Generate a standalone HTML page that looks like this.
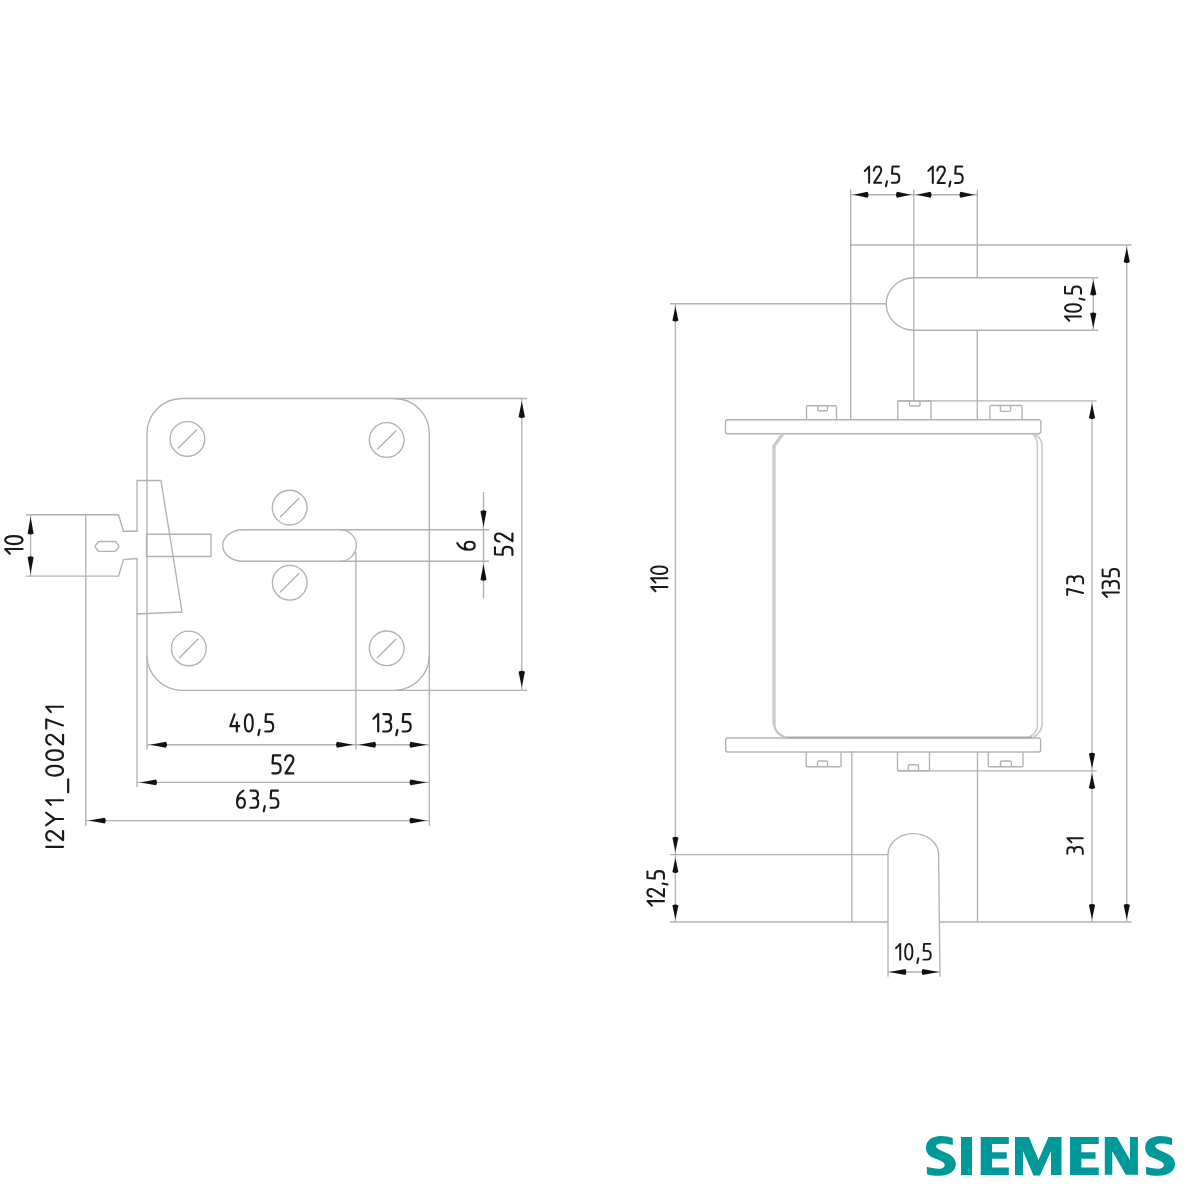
<!DOCTYPE html>
<html><head><meta charset="utf-8"><title>drawing</title>
<style>html,body{margin:0;padding:0;background:#fff;} svg{display:block;}</style></head>
<body><svg width="1200" height="1200" viewBox="0 0 1200 1200">
<rect width="1200" height="1200" fill="#fff"/>
<path d="M182,398.5 H394.3 A35,35 0 0 1 429.3,433.5 V655.3 A35,35 0 0 1 394.3,690.3 H182 A35,35 0 0 1 147,655.3 V433.5 A35,35 0 0 1 182,398.5 Z" stroke="#b2b2b2" stroke-width="1.35" fill="none"/>
<line x1="394.3" y1="398.5" x2="527" y2="398.5" stroke="#b2b2b2" stroke-width="1.35"/>
<line x1="394.3" y1="690.3" x2="527" y2="690.3" stroke="#b2b2b2" stroke-width="1.35"/>
<line x1="147" y1="655.3" x2="147" y2="749.5" stroke="#b2b2b2" stroke-width="1.35"/>
<line x1="429.3" y1="655.3" x2="429.3" y2="826" stroke="#b2b2b2" stroke-width="1.35"/>
<circle cx="187.4" cy="439" r="17.35" stroke="#b2b2b2" stroke-width="1.35" fill="none"/>
<line x1="177.8" y1="448.6" x2="197" y2="429.4" stroke="#b2b2b2" stroke-width="1.35"/>
<circle cx="188.8" cy="648.4" r="17.35" stroke="#b2b2b2" stroke-width="1.35" fill="none"/>
<line x1="179.2" y1="658" x2="198.4" y2="638.8" stroke="#b2b2b2" stroke-width="1.35"/>
<circle cx="386.7" cy="440" r="17.35" stroke="#b2b2b2" stroke-width="1.35" fill="none"/>
<line x1="377.1" y1="449.6" x2="396.3" y2="430.4" stroke="#b2b2b2" stroke-width="1.35"/>
<circle cx="386.7" cy="648.3" r="17.35" stroke="#b2b2b2" stroke-width="1.35" fill="none"/>
<line x1="377.1" y1="657.9" x2="396.3" y2="638.7" stroke="#b2b2b2" stroke-width="1.35"/>
<circle cx="289.7" cy="507.6" r="17.35" stroke="#b2b2b2" stroke-width="1.35" fill="none"/>
<line x1="280.1" y1="517.2" x2="299.3" y2="498" stroke="#b2b2b2" stroke-width="1.35"/>
<circle cx="289.7" cy="582.7" r="17.35" stroke="#b2b2b2" stroke-width="1.35" fill="none"/>
<line x1="280.1" y1="592.3" x2="299.3" y2="573.1" stroke="#b2b2b2" stroke-width="1.35"/>
<path d="M26,514.75 H118.5 L123.5,531.25 H137 V480.5 H161 L182,612 L137,614 V787" stroke="#b2b2b2" stroke-width="1.35" fill="none"/>
<path d="M26,576.1 H118.5 L123.5,559.6 L137,558.6 V614" stroke="#b2b2b2" stroke-width="1.35" fill="none"/>
<line x1="85.75" y1="514.75" x2="85.75" y2="826" stroke="#b2b2b2" stroke-width="1.35"/>
<path d="M99.5,541.5 H114.5 Q115.5,541.5 116.2,542.4 L118.6,545.6 Q119.2,546.5 118.6,547.4 L116.2,550.5 Q115.5,551.4 114.5,551.4 H99.5 Q98.5,551.4 97.8,550.5 L95.4,547.4 Q94.8,546.5 95.4,545.6 L97.8,542.4 Q98.5,541.5 99.5,541.5 Z" stroke="#b2b2b2" stroke-width="1.35" fill="none"/>
<path d="M146.5,534.25 H211 V556.5 H146.5 Z" stroke="#b2b2b2" stroke-width="1.35" fill="none"/>
<path d="M242.75,529.75 H340.5 A15.75,15.75 0 0 1 340.5,561.25 H242.75 A20,15.75 0 0 1 242.75,529.75 Z" stroke="#b2b2b2" stroke-width="1.35" fill="none"/>
<line x1="340.5" y1="529.75" x2="489" y2="529.75" stroke="#b2b2b2" stroke-width="1.35"/>
<line x1="340.5" y1="561.25" x2="489" y2="561.25" stroke="#b2b2b2" stroke-width="1.35"/>
<line x1="355.9" y1="552" x2="355.9" y2="749.5" stroke="#b2b2b2" stroke-width="1.35"/>
<line x1="30.6" y1="514.75" x2="30.6" y2="576.1" stroke="#b2b2b2" stroke-width="1.35"/>
<path d="M30.6,517 L33.6,533.5 Q30.6,535.5 27.6,533.5 Z" fill="#111"/>
<path d="M30.6,573.8 L27.6,557.3 Q30.6,555.3 33.6,557.3 Z" fill="#111"/>
<g transform="translate(4.1,554.75) rotate(-90) scale(0.9750)" fill="none" stroke="#1a1a1a" stroke-width="2.2" stroke-linecap="round" stroke-linejoin="round"><path transform="translate(0.00,0)" d="M5.9,18.9 V1.1 L1.1,5.9"/><path transform="translate(9.86,0)" d="M5.2,1.1 C7.8,1.1 9.3,4.8 9.3,10 C9.3,15.2 7.8,18.9 5.2,18.9 C2.6,18.9 1.1,15.2 1.1,10 C1.1,4.8 2.6,1.1 5.2,1.1 Z"/></g>
<line x1="521.75" y1="398.5" x2="521.75" y2="690.3" stroke="#b2b2b2" stroke-width="1.35"/>
<path d="M521.75,401.5 L524.95,417 Q521.75,419 518.55,417 Z" fill="#111"/>
<path d="M521.75,687.3 L518.55,671.8 Q521.75,669.8 524.95,671.8 Z" fill="#111"/>
<g transform="translate(493.9,556.2) rotate(-90) scale(0.9800)" fill="none" stroke="#1a1a1a" stroke-width="2.2" stroke-linecap="round" stroke-linejoin="round"><path transform="translate(0.00,0)" d="M9,1.1 H2 L1.5,9 H5.3 C8,9 9.5,10.9 9.5,13.9 C9.5,17 8,18.9 5.2,18.9 H1.3"/><path transform="translate(13.89,0)" d="M1.1,5.6 C1.6,2.8 3.2,1.1 5.3,1.1 C7.6,1.1 9.3,2.8 9.3,5.2 C9.3,6.8 8.6,8 7.5,9.6 L1.4,18.9 H9.3"/></g>
<line x1="483.5" y1="492" x2="483.5" y2="598.3" stroke="#b2b2b2" stroke-width="1.35"/>
<path d="M483.5,527 L480.5,511.25 Q483.5,509.25 486.5,511.25 Z" fill="#111"/>
<path d="M483.5,564 L486.5,579.75 Q483.5,581.75 480.5,579.75 Z" fill="#111"/>
<g transform="translate(456.25,550.8) rotate(-90) scale(0.9775)" fill="none" stroke="#1a1a1a" stroke-width="2.2" stroke-linecap="round" stroke-linejoin="round"><path transform="translate(0.00,0)" d="M7.8,1.1 C4.2,3 1.1,7 1.1,12.6 C1.1,16.7 2.8,18.9 5.2,18.9 C7.7,18.9 9.3,16.8 9.3,13.7 C9.3,10.7 7.8,8.7 5.2,8.7 C3.3,8.7 1.9,10 1.3,11.8"/></g>
<line x1="147" y1="744.75" x2="429.3" y2="744.75" stroke="#b2b2b2" stroke-width="1.35"/>
<path d="M150,744.75 L166,741.85 Q168,744.75 166,747.65 Z" fill="#111"/>
<path d="M353,744.75 L337,747.65 Q335,744.75 337,741.85 Z" fill="#111"/>
<path d="M359,744.75 L375,741.85 Q377,744.75 375,747.65 Z" fill="#111"/>
<path d="M426.5,744.75 L410.5,747.65 Q408.5,744.75 410.5,741.85 Z" fill="#111"/>
<g transform="translate(229.25,713.25) scale(0.9625)" fill="none" stroke="#1a1a1a" stroke-width="2.2" stroke-linecap="round" stroke-linejoin="round"><path transform="translate(0.00,0)" d="M5.6,1.1 L1.1,13.4 H10.4 M7.9,9.4 V18.9"/><path transform="translate(15.12,0)" d="M5.2,1.1 C7.8,1.1 9.3,4.8 9.3,10 C9.3,15.2 7.8,18.9 5.2,18.9 C2.6,18.9 1.1,15.2 1.1,10 C1.1,4.8 2.6,1.1 5.2,1.1 Z"/><path transform="translate(29.14,0)" d="M2.3,17.3 L1.1,22.7"/><path transform="translate(36.15,0)" d="M9,1.1 H2 L1.5,9 H5.3 C8,9 9.5,10.9 9.5,13.9 C9.5,17 8,18.9 5.2,18.9 H1.3"/></g>
<g transform="translate(372.4,713) scale(0.9800)" fill="none" stroke="#1a1a1a" stroke-width="2.2" stroke-linecap="round" stroke-linejoin="round"><path transform="translate(0.00,0)" d="M5.9,18.9 V1.1 L1.1,5.9"/><path transform="translate(9.92,0)" d="M1.3,1.1 H5.6 C7.8,1.1 9,2.6 9,4.9 C9,7.4 7.6,9 5.2,9 H3.8 M5.2,9 C7.9,9 9.3,11 9.3,13.9 C9.3,17 7.7,18.9 5,18.9 H1.1"/><path transform="translate(23.24,0)" d="M2.3,17.3 L1.1,22.7"/><path transform="translate(29.55,0)" d="M9,1.1 H2 L1.5,9 H5.3 C8,9 9.5,10.9 9.5,13.9 C9.5,17 8,18.9 5.2,18.9 H1.3"/></g>
<line x1="137" y1="782.4" x2="429.3" y2="782.4" stroke="#b2b2b2" stroke-width="1.35"/>
<path d="M140,782.4 L156,779.5 Q158,782.4 156,785.3 Z" fill="#111"/>
<path d="M426.5,782.4 L410.5,785.3 Q408.5,782.4 410.5,779.5 Z" fill="#111"/>
<g transform="translate(271.1,754.3) scale(1.0050)" fill="none" stroke="#1a1a1a" stroke-width="2.2" stroke-linecap="round" stroke-linejoin="round"><path transform="translate(0.00,0)" d="M9,1.1 H2 L1.5,9 H5.3 C8,9 9.5,10.9 9.5,13.9 C9.5,17 8,18.9 5.2,18.9 H1.3"/><path transform="translate(12.88,0)" d="M1.1,5.6 C1.6,2.8 3.2,1.1 5.3,1.1 C7.6,1.1 9.3,2.8 9.3,5.2 C9.3,6.8 8.6,8 7.5,9.6 L1.4,18.9 H9.3"/></g>
<line x1="85.75" y1="820.6" x2="429.3" y2="820.6" stroke="#b2b2b2" stroke-width="1.35"/>
<path d="M88.75,820.6 L104.75,817.7 Q106.75,820.6 104.75,823.5 Z" fill="#111"/>
<path d="M426.5,820.6 L410.5,823.5 Q408.5,820.6 410.5,817.7 Z" fill="#111"/>
<g transform="translate(236,789.6) scale(0.9575)" fill="none" stroke="#1a1a1a" stroke-width="2.2" stroke-linecap="round" stroke-linejoin="round"><path transform="translate(0.00,0)" d="M7.8,1.1 C4.2,3 1.1,7 1.1,12.6 C1.1,16.7 2.8,18.9 5.2,18.9 C7.7,18.9 9.3,16.8 9.3,13.7 C9.3,10.7 7.8,8.7 5.2,8.7 C3.3,8.7 1.9,10 1.3,11.8"/><path transform="translate(13.91,0)" d="M1.3,1.1 H5.6 C7.8,1.1 9,2.6 9,4.9 C9,7.4 7.6,9 5.2,9 H3.8 M5.2,9 C7.9,9 9.3,11 9.3,13.9 C9.3,17 7.7,18.9 5,18.9 H1.1"/><path transform="translate(27.82,0)" d="M2.3,17.3 L1.1,22.7"/><path transform="translate(34.73,0)" d="M9,1.1 H2 L1.5,9 H5.3 C8,9 9.5,10.9 9.5,13.9 C9.5,17 8,18.9 5.2,18.9 H1.3"/></g>
<g fill="none" stroke="#1a1a1a" stroke-width="2.2" stroke-linecap="round" stroke-linejoin="round"><g transform="translate(45.2,848) rotate(-90) scale(1.0455,0.9450)"><path d="M1.1,1.1 V18.9" vector-effect="non-scaling-stroke"/></g><g transform="translate(45.2,841.8) rotate(-90) scale(1.1538,0.9450)"><path d="M1.1,5.6 C1.6,2.8 3.2,1.1 5.3,1.1 C7.6,1.1 9.3,2.8 9.3,5.2 C9.3,6.8 8.6,8 7.5,9.6 L1.4,18.9 H9.3" vector-effect="non-scaling-stroke"/></g><g transform="translate(45.2,826.8) rotate(-90) scale(1.4182,0.9450)"><path d="M1.1,1.1 L5.5,10 L9.9,1.1 M5.5,10 V18.9" vector-effect="non-scaling-stroke"/></g><g transform="translate(45.2,805.8) rotate(-90) scale(0.9429,0.9450)"><path d="M5.9,18.9 V1.1 L1.1,5.9" vector-effect="non-scaling-stroke"/></g><g transform="translate(45.2,793.4) rotate(-90) scale(0.9375,0.9450)"><path d="M1.1,24.3 H14.9" vector-effect="non-scaling-stroke"/></g><g transform="translate(45.2,776.9) rotate(-90) scale(1.1827,0.9450)"><path d="M5.2,1.1 C7.8,1.1 9.3,4.8 9.3,10 C9.3,15.2 7.8,18.9 5.2,18.9 C2.6,18.9 1.1,15.2 1.1,10 C1.1,4.8 2.6,1.1 5.2,1.1 Z" vector-effect="non-scaling-stroke"/></g><g transform="translate(45.2,761.3) rotate(-90) scale(1.1827,0.9450)"><path d="M5.2,1.1 C7.8,1.1 9.3,4.8 9.3,10 C9.3,15.2 7.8,18.9 5.2,18.9 C2.6,18.9 1.1,15.2 1.1,10 C1.1,4.8 2.6,1.1 5.2,1.1 Z" vector-effect="non-scaling-stroke"/></g><g transform="translate(45.2,746) rotate(-90) scale(1.2115,0.9450)"><path d="M1.1,5.6 C1.6,2.8 3.2,1.1 5.3,1.1 C7.6,1.1 9.3,2.8 9.3,5.2 C9.3,6.8 8.6,8 7.5,9.6 L1.4,18.9 H9.3" vector-effect="non-scaling-stroke"/></g><g transform="translate(45.2,730) rotate(-90) scale(1.3333,0.9450)"><path d="M1.1,1.1 H7.9 L3.4,18.9" vector-effect="non-scaling-stroke"/></g><g transform="translate(45.2,713.3) rotate(-90) scale(1.1143,0.9450)"><path d="M5.9,18.9 V1.1 L1.1,5.9" vector-effect="non-scaling-stroke"/></g></g>
<line x1="850.75" y1="189.5" x2="850.75" y2="419.75" stroke="#b2b2b2" stroke-width="1.35"/>
<line x1="913.75" y1="189.5" x2="913.75" y2="401" stroke="#b2b2b2" stroke-width="1.35"/>
<line x1="977.3" y1="189.5" x2="977.3" y2="277.75" stroke="#b2b2b2" stroke-width="1.35"/>
<line x1="977.3" y1="330.25" x2="977.3" y2="419.75" stroke="#b2b2b2" stroke-width="1.35"/>
<line x1="851.85" y1="751.5" x2="851.85" y2="922" stroke="#b2b2b2" stroke-width="1.35"/>
<line x1="977.5" y1="752" x2="977.5" y2="922" stroke="#b2b2b2" stroke-width="1.35"/>
<line x1="850.75" y1="194.75" x2="977.3" y2="194.75" stroke="#b2b2b2" stroke-width="1.35"/>
<path d="M853.5,194.75 L867.5,191.65 Q869.5,194.75 867.5,197.85 Z" fill="#111"/>
<path d="M911,194.75 L897,197.85 Q895,194.75 897,191.65 Z" fill="#111"/>
<path d="M916.5,194.75 L930.5,191.65 Q932.5,194.75 930.5,197.85 Z" fill="#111"/>
<path d="M974.5,194.75 L960.5,197.85 Q958.5,194.75 960.5,191.65 Z" fill="#111"/>
<g transform="translate(863.75,165.6) scale(0.9100)" fill="none" stroke="#1a1a1a" stroke-width="2.2" stroke-linecap="round" stroke-linejoin="round"><path transform="translate(0.00,0)" d="M5.9,18.9 V1.1 L1.1,5.9"/><path transform="translate(9.92,0)" d="M1.1,5.6 C1.6,2.8 3.2,1.1 5.3,1.1 C7.6,1.1 9.3,2.8 9.3,5.2 C9.3,6.8 8.6,8 7.5,9.6 L1.4,18.9 H9.3"/><path transform="translate(23.24,0)" d="M2.3,17.3 L1.1,22.7"/><path transform="translate(29.56,0)" d="M9,1.1 H2 L1.5,9 H5.3 C8,9 9.5,10.9 9.5,13.9 C9.5,17 8,18.9 5.2,18.9 H1.3"/></g>
<g transform="translate(927.3,165.4) scale(0.9300)" fill="none" stroke="#1a1a1a" stroke-width="2.2" stroke-linecap="round" stroke-linejoin="round"><path transform="translate(0.00,0)" d="M5.9,18.9 V1.1 L1.1,5.9"/><path transform="translate(9.60,0)" d="M1.1,5.6 C1.6,2.8 3.2,1.1 5.3,1.1 C7.6,1.1 9.3,2.8 9.3,5.2 C9.3,6.8 8.6,8 7.5,9.6 L1.4,18.9 H9.3"/><path transform="translate(22.60,0)" d="M2.3,17.3 L1.1,22.7"/><path transform="translate(28.59,0)" d="M9,1.1 H2 L1.5,9 H5.3 C8,9 9.5,10.9 9.5,13.9 C9.5,17 8,18.9 5.2,18.9 H1.3"/></g>
<line x1="850.75" y1="245" x2="1131.5" y2="245" stroke="#b2b2b2" stroke-width="1.35"/>
<path d="M1098.25,277.75 H913.75 A27.5,26.25 0 0 0 913.75,330.25 H1098.25" stroke="#b2b2b2" stroke-width="1.35" fill="none"/>
<line x1="670" y1="303.75" x2="886.25" y2="303.75" stroke="#b2b2b2" stroke-width="1.35"/>
<line x1="1093.25" y1="277.75" x2="1093.25" y2="330.25" stroke="#b2b2b2" stroke-width="1.35"/>
<path d="M1093.25,280 L1096.35,294.5 Q1093.25,296.5 1090.15,294.5 Z" fill="#111"/>
<path d="M1093.25,328 L1090.15,313.5 Q1093.25,311.5 1096.35,313.5 Z" fill="#111"/>
<g transform="translate(1064,321.7) rotate(-90) scale(0.9000)" fill="none" stroke="#1a1a1a" stroke-width="2.2" stroke-linecap="round" stroke-linejoin="round"><path transform="translate(0.00,0)" d="M5.9,18.9 V1.1 L1.1,5.9"/><path transform="translate(9.98,0)" d="M5.2,1.1 C7.8,1.1 9.3,4.8 9.3,10 C9.3,15.2 7.8,18.9 5.2,18.9 C2.6,18.9 1.1,15.2 1.1,10 C1.1,4.8 2.6,1.1 5.2,1.1 Z"/><path transform="translate(23.36,0)" d="M2.3,17.3 L1.1,22.7"/><path transform="translate(29.73,0)" d="M9,1.1 H2 L1.5,9 H5.3 C8,9 9.5,10.9 9.5,13.9 C9.5,17 8,18.9 5.2,18.9 H1.3"/></g>
<line x1="1126.75" y1="245" x2="1126.75" y2="922" stroke="#b2b2b2" stroke-width="1.35"/>
<path d="M1126.75,247.5 L1129.85,262 Q1126.75,264 1123.65,262 Z" fill="#111"/>
<path d="M1126.75,919.5 L1123.65,905 Q1126.75,903 1129.85,905 Z" fill="#111"/>
<g transform="translate(1101.6,598) rotate(-90) scale(0.9125)" fill="none" stroke="#1a1a1a" stroke-width="2.2" stroke-linecap="round" stroke-linejoin="round"><path transform="translate(0.00,0)" d="M5.9,18.9 V1.1 L1.1,5.9"/><path transform="translate(9.38,0)" d="M1.3,1.1 H5.6 C7.8,1.1 9,2.6 9,4.9 C9,7.4 7.6,9 5.2,9 H3.8 M5.2,9 C7.9,9 9.3,11 9.3,13.9 C9.3,17 7.7,18.9 5,18.9 H1.1"/><path transform="translate(22.17,0)" d="M9,1.1 H2 L1.5,9 H5.3 C8,9 9.5,10.9 9.5,13.9 C9.5,17 8,18.9 5.2,18.9 H1.3"/></g>
<line x1="675.4" y1="303.75" x2="675.4" y2="922" stroke="#b2b2b2" stroke-width="1.35"/>
<path d="M675.4,306.5 L678.4,320.5 Q675.4,322.5 672.4,320.5 Z" fill="#111"/>
<path d="M675.4,851.7 L672.4,837.7 Q675.4,835.7 678.4,837.7 Z" fill="#111"/>
<path d="M675.4,857.9 L678.4,871.9 Q675.4,873.9 672.4,871.9 Z" fill="#111"/>
<path d="M675.4,919.6 L672.4,905.6 Q675.4,903.6 678.4,905.6 Z" fill="#111"/>
<g transform="translate(650.1,592.3) rotate(-90) scale(0.9150)" fill="none" stroke="#1a1a1a" stroke-width="2.2" stroke-linecap="round" stroke-linejoin="round"><path transform="translate(0.00,0)" d="M5.9,18.9 V1.1 L1.1,5.9"/><path transform="translate(9.50,0)" d="M5.9,18.9 V1.1 L1.1,5.9"/><path transform="translate(19.00,0)" d="M5.2,1.1 C7.8,1.1 9.3,4.8 9.3,10 C9.3,15.2 7.8,18.9 5.2,18.9 C2.6,18.9 1.1,15.2 1.1,10 C1.1,4.8 2.6,1.1 5.2,1.1 Z"/></g>
<g transform="translate(646.4,906.6) rotate(-90) scale(0.9300)" fill="none" stroke="#1a1a1a" stroke-width="2.2" stroke-linecap="round" stroke-linejoin="round"><path transform="translate(0.00,0)" d="M5.9,18.9 V1.1 L1.1,5.9"/><path transform="translate(9.62,0)" d="M1.1,5.6 C1.6,2.8 3.2,1.1 5.3,1.1 C7.6,1.1 9.3,2.8 9.3,5.2 C9.3,6.8 8.6,8 7.5,9.6 L1.4,18.9 H9.3"/><path transform="translate(22.63,0)" d="M2.3,17.3 L1.1,22.7"/><path transform="translate(28.65,0)" d="M9,1.1 H2 L1.5,9 H5.3 C8,9 9.5,10.9 9.5,13.9 C9.5,17 8,18.9 5.2,18.9 H1.3"/></g>
<line x1="670" y1="854.6" x2="888" y2="854.6" stroke="#b2b2b2" stroke-width="1.35"/>
<line x1="670" y1="922" x2="888" y2="922" stroke="#b2b2b2" stroke-width="1.35"/>
<line x1="940" y1="922" x2="1131.5" y2="922" stroke="#b2b2b2" stroke-width="1.35"/>
<path d="M888,976.7 V854.3 A25.3,20.7 0 0 1 938.6,854.3 L940,976.7" stroke="#b2b2b2" stroke-width="1.35" fill="none"/>
<line x1="888" y1="972" x2="940" y2="972" stroke="#b2b2b2" stroke-width="1.35"/>
<path d="M889.3,972 L905.3,968.9 Q907.3,972 905.3,975.1 Z" fill="#111"/>
<path d="M938.7,972 L922.7,975.1 Q920.7,972 922.7,968.9 Z" fill="#111"/>
<g transform="translate(895,942.9) scale(0.8850)" fill="none" stroke="#1a1a1a" stroke-width="2.2" stroke-linecap="round" stroke-linejoin="round"><path transform="translate(0.00,0)" d="M5.9,18.9 V1.1 L1.1,5.9"/><path transform="translate(10.36,0)" d="M5.2,1.1 C7.8,1.1 9.3,4.8 9.3,10 C9.3,15.2 7.8,18.9 5.2,18.9 C2.6,18.9 1.1,15.2 1.1,10 C1.1,4.8 2.6,1.1 5.2,1.1 Z"/><path transform="translate(24.11,0)" d="M2.3,17.3 L1.1,22.7"/><path transform="translate(30.87,0)" d="M9,1.1 H2 L1.5,9 H5.3 C8,9 9.5,10.9 9.5,13.9 C9.5,17 8,18.9 5.2,18.9 H1.3"/></g>
<line x1="1092" y1="400.9" x2="1092" y2="922" stroke="#b2b2b2" stroke-width="1.35"/>
<line x1="897.75" y1="400.9" x2="1096.7" y2="400.9" stroke="#b2b2b2" stroke-width="1.35"/>
<line x1="897.5" y1="770.9" x2="1096.7" y2="770.9" stroke="#b2b2b2" stroke-width="1.35"/>
<path d="M1092,403.5 L1095.1,418 Q1092,420 1088.9,418 Z" fill="#111"/>
<path d="M1092,768.3 L1088.9,753.8 Q1092,751.8 1095.1,753.8 Z" fill="#111"/>
<path d="M1092,773.5 L1095.1,788 Q1092,790 1088.9,788 Z" fill="#111"/>
<path d="M1092,919.5 L1088.9,905 Q1092,903 1095.1,905 Z" fill="#111"/>
<g transform="translate(1066.2,596.1) rotate(-90) scale(0.8950)" fill="none" stroke="#1a1a1a" stroke-width="2.2" stroke-linecap="round" stroke-linejoin="round"><path transform="translate(0.00,0)" d="M1.1,1.1 H7.9 L3.4,18.9"/><path transform="translate(12.84,0)" d="M1.3,1.1 H5.6 C7.8,1.1 9,2.6 9,4.9 C9,7.4 7.6,9 5.2,9 H3.8 M5.2,9 C7.9,9 9.3,11 9.3,13.9 C9.3,17 7.7,18.9 5,18.9 H1.1"/></g>
<g transform="translate(1066.4,855) rotate(-90) scale(0.8675)" fill="none" stroke="#1a1a1a" stroke-width="2.2" stroke-linecap="round" stroke-linejoin="round"><path transform="translate(0.00,0)" d="M1.3,1.1 H5.6 C7.8,1.1 9,2.6 9,4.9 C9,7.4 7.6,9 5.2,9 H3.8 M5.2,9 C7.9,9 9.3,11 9.3,13.9 C9.3,17 7.7,18.9 5,18.9 H1.1"/><path transform="translate(13.46,0)" d="M5.9,18.9 V1.1 L1.1,5.9"/></g>
<path d="M727.8,419.75 H1038.6 A2.3,2.3 0 0 1 1040.9,422.05 V431.45 A2.3,2.3 0 0 1 1038.6,433.75 H727.8 A2.3,2.3 0 0 1 725.5,431.45 V422.05 A2.3,2.3 0 0 1 727.8,419.75 Z" stroke="#b2b2b2" stroke-width="1.35" fill="none"/>
<path d="M727.7,738 H1038.6 A2,2 0 0 1 1040.6,740 V750 A2,2 0 0 1 1038.6,752 H727.7 A2,2 0 0 1 725.7,750 V740 A2,2 0 0 1 727.7,738 Z" stroke="#b2b2b2" stroke-width="1.35" fill="none"/>
<path d="M806.5,419.75 V406.75 Q806.5,405.75 807.5,405.75 H835.5 Q836.5,405.75 836.5,406.75 V419.75" stroke="#b2b2b2" stroke-width="1.35" fill="none"/>
<path d="M817.75,405.75 V409.55 Q817.75,410.75 818.95,410.75 H826.3 Q827.5,410.75 827.5,409.55 V405.75" stroke="#b2b2b2" stroke-width="1.35" fill="none"/>
<path d="M897.75,419.75 V402 Q897.75,401 898.75,401 H930 Q931,401 931,402 V419.75" stroke="#b2b2b2" stroke-width="1.35" fill="none"/>
<path d="M909.5,401 V404.8 Q909.5,406 910.7,406 H918.8 Q920,406 920,404.8 V401" stroke="#b2b2b2" stroke-width="1.35" fill="none"/>
<path d="M989.9,419.75 V406.5 Q989.9,405.5 990.9,405.5 H1021 Q1022,405.5 1022,406.5 V419.75" stroke="#b2b2b2" stroke-width="1.35" fill="none"/>
<path d="M1000.4,405.5 V410.1 Q1000.4,411.3 1001.6,411.3 H1009.4 Q1010.6,411.3 1010.6,410.1 V405.5" stroke="#b2b2b2" stroke-width="1.35" fill="none"/>
<path d="M806.25,752 V765.75 Q806.25,766.75 807.25,766.75 H840 Q841,766.75 841,765.75 V752" stroke="#b2b2b2" stroke-width="1.35" fill="none"/>
<path d="M817.5,766.75 V762.2 Q817.5,761 818.7,761 H826.3 Q827.5,761 827.5,762.2 V766.75" stroke="#b2b2b2" stroke-width="1.35" fill="none"/>
<path d="M897.5,752 V769.75 Q897.5,770.75 898.5,770.75 H928.5 Q929.5,770.75 929.5,769.75 V752" stroke="#b2b2b2" stroke-width="1.35" fill="none"/>
<path d="M908.25,770.75 V765.95 Q908.25,764.75 909.45,764.75 H917.3 Q918.5,764.75 918.5,765.95 V770.75" stroke="#b2b2b2" stroke-width="1.35" fill="none"/>
<path d="M988.25,752 V765.75 Q988.25,766.75 989.25,766.75 H1022 Q1023,766.75 1023,765.75 V752" stroke="#b2b2b2" stroke-width="1.35" fill="none"/>
<path d="M1000.5,766.75 V762.2 Q1000.5,761 1001.7,761 H1010.05 Q1011.25,761 1011.25,762.2 V766.75" stroke="#b2b2b2" stroke-width="1.35" fill="none"/>
<path d="M774,724.7 V446 L783,433.75" stroke="#cbcbcb" stroke-width="3.4" fill="none"/>
<path d="M774,724.7 Q776,735 786.7,737.5" stroke="#c4c4c4" stroke-width="2.2" fill="none"/>
<path d="M1033.5,434 Q1042,437 1042,446.3 V724.6 Q1041.5,733 1032.9,737.3" stroke="#c6c6c6" stroke-width="1.5" fill="none"/>
<path d="M1032.75,434.2 Q1037.4,438 1037.4,445.2 V726.25 Q1037,733 1029.2,737" stroke="#c6c6c6" stroke-width="1.5" fill="none"/>
<line x1="786.7" y1="737.5" x2="1032" y2="737.5" stroke="#aaaaaa" stroke-width="2"/>
<path id="sS" fill="#009999" d="M952.8,1138 L952.8,1145 C947.6,1143.4 939.2,1142.6 936.8,1144.8 C935.2,1146.4 936.4,1148.4 940.4,1150.2 L947.6,1153.6 C953.2,1156.4 956,1160 955.8,1164.8 C955.6,1170.4 950,1175.6 939.2,1175.8 C934,1175.8 930,1175.2 927,1174.2 L926.8,1166.8 C931.2,1168.2 938,1169.2 941.6,1168.4 C944.4,1167.6 945.6,1165.2 944,1163.2 C942.8,1161.6 939.6,1160.4 935.2,1158.6 L933.2,1157.8 C928,1155.6 925.8,1151.6 926,1147.2 C926.2,1140.4 932.4,1136.2 940.8,1136 C945.2,1136 949.2,1136.8 952.8,1138 Z"/>
<rect x="961" y="1137" width="11" height="38" fill="#009999"/>
<path fill="#009999" d="M980.7,1137 H1008.8 V1144.1 H992 V1152.2 H1006.7 V1158.7 H992 V1167.4 H1008.8 V1175 H980.7 Z"/>
<path fill="#009999" d="M1070,1137 H1098.75 V1144.1 H1081.4 V1152.2 H1095.5 V1158.7 H1081.4 V1167.4 H1098.75 V1175 H1070 Z"/>
<path fill="#009999" d="M1015,1137 H1029 L1038.5,1160 L1048.5,1137 H1061.5 V1175 H1051 V1151 L1040,1175.5 H1033.5 L1023,1151 V1175 H1015 Z"/>
<path fill="#009999" d="M1104.8,1137.1 H1116.9 L1130,1160 V1137.1 H1137.9 V1174.8 H1125.8 L1112.3,1151.25 V1174.8 H1104.8 Z"/>
<path fill="#009999" transform="translate(219.2,0)" d="M952.8,1138 L952.8,1145 C947.6,1143.4 939.2,1142.6 936.8,1144.8 C935.2,1146.4 936.4,1148.4 940.4,1150.2 L947.6,1153.6 C953.2,1156.4 956,1160 955.8,1164.8 C955.6,1170.4 950,1175.6 939.2,1175.8 C934,1175.8 930,1175.2 927,1174.2 L926.8,1166.8 C931.2,1168.2 938,1169.2 941.6,1168.4 C944.4,1167.6 945.6,1165.2 944,1163.2 C942.8,1161.6 939.6,1160.4 935.2,1158.6 L933.2,1157.8 C928,1155.6 925.8,1151.6 926,1147.2 C926.2,1140.4 932.4,1136.2 940.8,1136 C945.2,1136 949.2,1136.8 952.8,1138 Z"/>
</svg></body></html>
